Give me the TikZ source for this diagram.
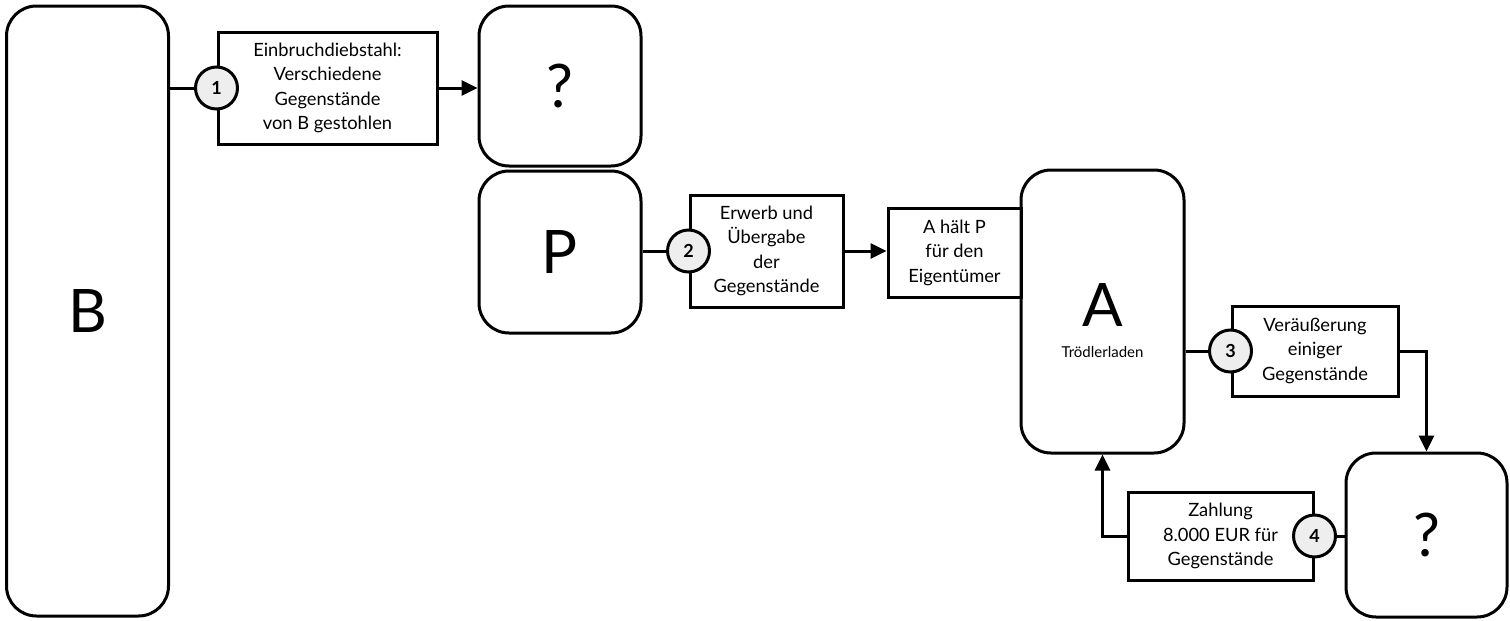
\documentclass[tikz,border=0pt]{standalone}
\usepackage{fontspec}
\setmainfont{Lato}
\usetikzlibrary{arrows.meta}
\definecolor{circfill}{HTML}{EEEEEE}
\tikzset{
  x=1pt,y=-1pt,
  line/.style={line width=3pt,draw=black},
  party/.style={line, rounded corners=30pt, inner sep=0pt, anchor=center,
     font=\fontsize{60}{60}\selectfont},
  actbox/.style={line, inner sep=0pt, anchor=center, align=center,
     font=\fontsize{18.3}{24.5}\selectfont},
  num/.style={line, circle, fill=circfill, minimum size=42pt, inner sep=0pt,
     font=\fontsize{18}{18}\selectfont\bfseries},
  conn/.style={line width=3pt, line join=miter},
  arr/.style={conn, -{Triangle[length=16pt,width=15pt]}},
}
\begin{document}
\begin{tikzpicture}
\useasboundingbox (0,0) rectangle (1510,621);
% parties
\node[party, minimum width=162pt, minimum height=610pt] (B) at (87.5,311) {B};
\node[party, minimum width=162pt, minimum height=160pt] (Q1) at (560,86) {?};
\node[party, minimum width=162pt, minimum height=162pt] (P) at (560,252) {P};
\node[party, minimum width=163pt, minimum height=283pt] (A) at (1102.5,311.5) {};
\node[font=\fontsize{60}{60}\selectfont, inner sep=0pt] (Alab) at (1102.5,305) {A};
\node[font=\fontsize{15}{16}\selectfont, inner sep=0pt] (Asub) at (1102.5,352) {Trödlerladen};
\node[party, minimum width=161pt, minimum height=164pt] (Q2) at (1426.5,535) {?};
% action boxes
\node[actbox, minimum width=219pt, minimum height=112pt] (b1) at (327.5,88)
  {Einbruchdiebstahl:\\Verschiedene\\Gegenstände\\von B gestohlen};
\node[actbox, minimum width=153pt, minimum height=112pt] (b2) at (766.5,251)
  {Erwerb und\\Übergabe\\der\\Gegenstände};
\node[actbox, minimum width=133pt, minimum height=89pt] (bAP) at (954.5,252.5)
  {A hält P\\für den\\Eigentümer};
\node[actbox, minimum width=166pt, minimum height=90pt] (b3) at (1315,351)
  {Veräußerung\\einiger\\Gegenstände};
\node[actbox, minimum width=185pt, minimum height=88pt] (b4) at (1220.5,536)
  {Zahlung\\8.000 EUR für\\Gegenstände};
% connectors
\draw[conn] (b1.west -| B.east) -- (b1.west);
\draw[arr] (b1.east) -- (b1.east -| Q1.west);
\draw[conn] (b2.west -| P.east) -- (b2.west);
\draw[arr] (b2.east) -- (b2.east -| bAP.west);
\draw[conn] (b3.west -| A.east) -- (b3.west);
\draw[arr] (b3.east) -| (Q2.north);
\draw[conn] (b4.east -| Q2.west) -- (b4.east);
\draw[arr] (b4.west) -| (A.south);
% step numbers
\node[num] (c1) at (b1.west) {1};
\node[num] (c2) at (b2.west) {2};
\node[num] (c3) at (b3.west) {3};
\node[num] (c4) at (b4.east) {4};
\end{tikzpicture}
\end{document}
